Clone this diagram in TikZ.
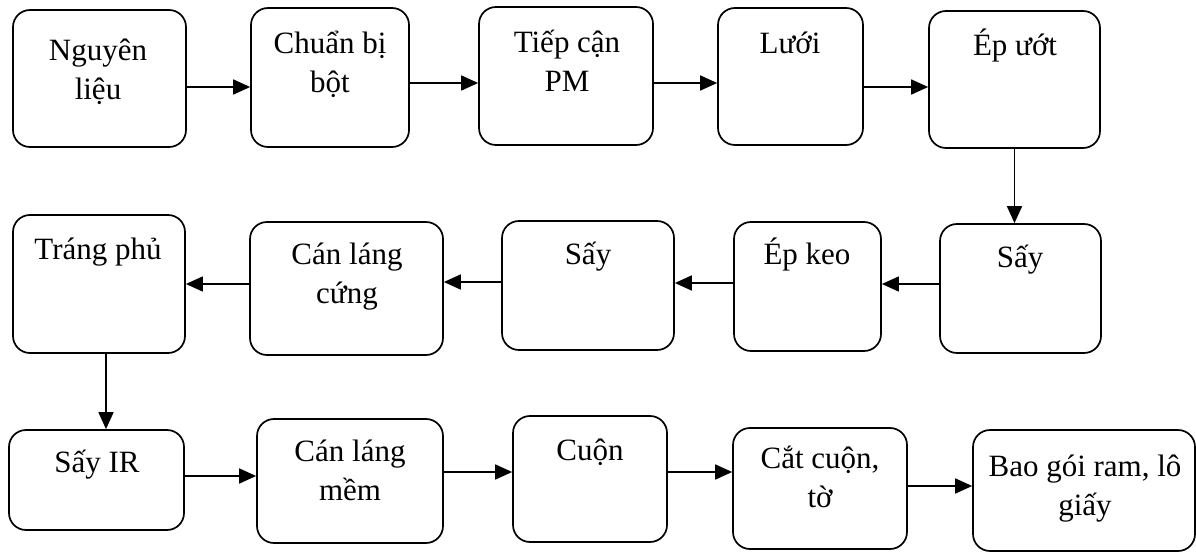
\documentclass[tikz,border=0pt]{standalone}
\usepackage{fontspec}
\setmainfont{Liberation Serif}
\usetikzlibrary{arrows.meta}
\begin{document}
\begin{tikzpicture}[x=1pt,y=-1pt,
 box/.style={draw, line width=1.7pt, rounded corners=17pt, inner sep=0pt},
 lbl/.style={font=\fontsize{31}{39}\selectfont, align=center, anchor=base, inner sep=0pt},
 arr/.style={line width=1.7pt, -{Triangle[length=17pt,width=15pt]}}]
\useasboundingbox (0,0) rectangle (1196,553);
% boxes
\node[box, minimum width=173pt, minimum height=137pt] (b1) at (99.5,78.5) {};
\node[box, minimum width=158pt, minimum height=139pt] (b2) at (330,77.5) {};
\node[box, minimum width=174pt, minimum height=138pt] (b3) at (566,76) {};
\node[box, minimum width=145pt, minimum height=137pt] (b4) at (790.5,76.5) {};
\node[box, minimum width=171pt, minimum height=137pt] (b5) at (1014.5,79.5) {};
\node[box, minimum width=161pt, minimum height=129pt] (b6) at (1020.5,288.5) {};
\node[box, minimum width=147pt, minimum height=129pt] (b7) at (807.5,286.5) {};
\node[box, minimum width=172pt, minimum height=129pt] (b8) at (588,285.5) {};
\node[box, minimum width=193pt, minimum height=133pt] (b9) at (346.5,288.5) {};
\node[box, minimum width=172pt, minimum height=138pt] (b10) at (99,284) {};
\node[box, minimum width=175pt, minimum height=100pt] (b11) at (96.5,480) {};
\node[box, minimum width=186pt, minimum height=124pt] (b12) at (350,481) {};
\node[box, minimum width=154pt, minimum height=126pt] (b13) at (590,479) {};
\node[box, minimum width=174pt, minimum height=121pt] (b14) at (820,488.5) {};
\node[box, minimum width=222pt, minimum height=121pt] (b15) at (1084,490.5) {};
% labels (base anchor = baseline of last line)
\node[lbl] (t1) at (98,100) {Nguyên\\liệu};
\node[lbl] (t2) at (330,93) {Chuẩn bị\\bột};
\node[lbl] (t3) at (567,92) {Tiếp cận\\PM};
\node[lbl] (t4) at (790,54) {Lưới};
\node[lbl] (t5) at (1015,56) {Ép ướt};
\node[lbl] (t6) at (1020,268) {Sấy};
\node[lbl] (t7) at (807,265) {Ép keo};
\node[lbl] (t8) at (588,265) {Sấy};
\node[lbl] (t9) at (347,303) {Cán láng\\cứng};
\node[lbl] (t10) at (98,260) {Tráng phủ};
\node[lbl] (t11) at (97,472) {Sấy IR};
\node[lbl] (t12) at (350,500) {Cán láng\\mềm};
\node[lbl] (t13) at (590,460) {Cuộn};
\node[lbl] (t14) at (820,507) {Cắt cuộn,\\tờ};
\node[lbl] (t15) at (1085,515) {Bao gói ram, lô\\giấy};
% connector start points
\coordinate (a1) at ([yshift=-8.5pt]b1.east);
\coordinate (a2) at ([yshift=-5.5pt]b2.east);
\coordinate (a3) at ([yshift=-7pt]b3.east);
\coordinate (a4) at ([yshift=-10.5pt]b4.east);
\coordinate (a6) at ([yshift=4.5pt]b6.west);
\coordinate (a7) at ([yshift=3.5pt]b7.west);
\coordinate (a8) at ([yshift=3.5pt]b8.west);
\coordinate (a9) at ([yshift=4.5pt]b9.west);
\coordinate (a11) at ([yshift=4pt]b11.east);
\coordinate (a12) at ([yshift=9pt]b12.east);
\coordinate (a13) at ([yshift=7pt]b13.east);
\coordinate (a14) at ([yshift=2.5pt]b14.east);
\coordinate (v10) at ([xshift=7pt]b10.south);
% connectors
\draw[arr] (a1) -- (a1 -| b2.west);
\draw[arr] (a2) -- (a2 -| b3.west);
\draw[arr] (a3) -- (a3 -| b4.west);
\draw[arr] (a4) -- (a4 -| b5.west);
\draw[arr] (b5.south) -- (b5.south |- b6.north);
\draw[arr] (a6) -- (a6 -| b7.east);
\draw[arr] (a7) -- (a7 -| b8.east);
\draw[arr] (a8) -- (a8 -| b9.east);
\draw[arr] (a9) -- (a9 -| b10.east);
\draw[arr] (v10) -- (v10 |- b11.north);
\draw[arr] (a11) -- (a11 -| b12.west);
\draw[arr] (a12) -- (a12 -| b13.west);
\draw[arr] (a13) -- (a13 -| b14.west);
\draw[arr] (a14) -- (a14 -| b15.west);
\end{tikzpicture}
\end{document}
